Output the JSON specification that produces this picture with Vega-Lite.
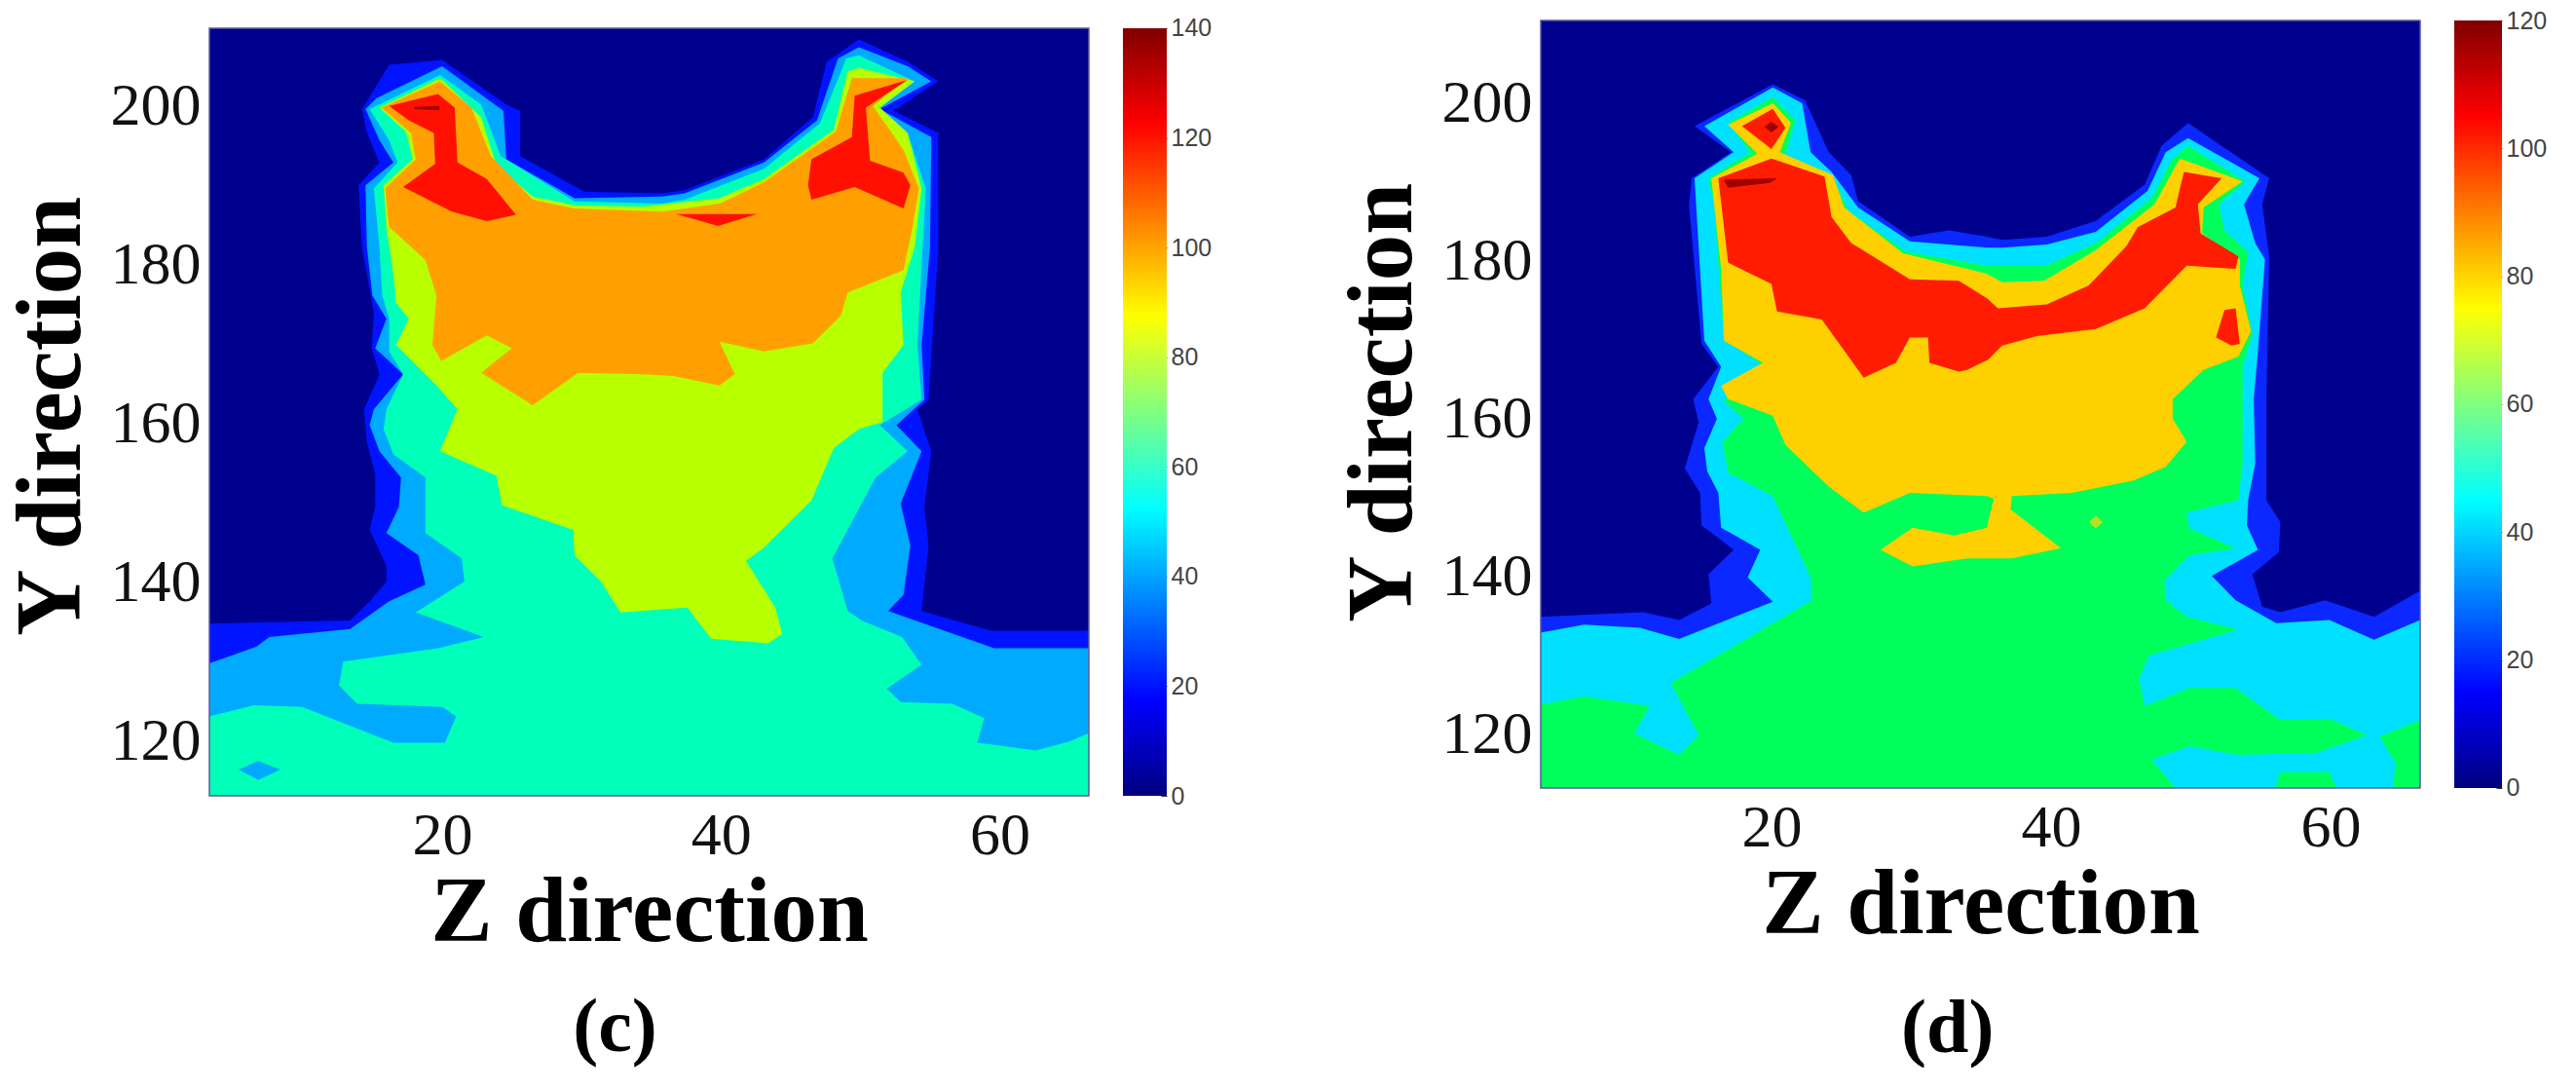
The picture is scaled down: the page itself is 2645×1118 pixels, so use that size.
{"$schema":"https://vega.github.io/schema/vega-lite/v6.json","padding":{"left":5,"top":9,"right":0,"bottom":0},"bounds":"flush","background":"white","spacing":0,
"config":{"view":{"stroke":null},"axis":{"grid":false,"domain":false,"zindex":1,"tickColor":"#333","labelColor":"#111"}},
"datasets":{
"labels":[{"t":"(c)","z":32.4,"y":83.75}],
"labeld":[{"t":"(d)","z":32.6,"y":82.5}],
"framec":[{"z0":3.3,"z1":66.4,"y0":113.1,"y1":209.8}],
"framed":[{"z0":3.5,"z1":66.4,"y0":113.1,"y1":210.4}],
"barc":[{"lo":0,"hi":140}],
"bard":[{"lo":0,"hi":120}],
"c":[
{"b":"c0","z":3.3,"y":113},{"b":"c0","z":66.4,"y":113},{"b":"c0","z":66.4,"y":209.8},{"b":"c0","z":3.3,"y":209.8},
{"b":"c1","z":3.3,"y":113},{"b":"c1","z":3.3,"y":134.8},{"b":"c1","z":13.4,"y":135.2},{"b":"c1","z":14.8,"y":137.6},{"b":"c1","z":16,"y":140.1},{"b":"c1","z":16,"y":142.1},{"b":"c1","z":14.8,"y":146.6},{"b":"c1","z":15.2,"y":149.5},{"b":"c1","z":15.2,"y":153.6},{"b":"c1","z":14.6,"y":157.7},{"b":"c1","z":14.4,"y":161.8},{"b":"c1","z":15.5,"y":166.2},{"b":"c1","z":14.95,"y":169.5},{"b":"c1","z":15.1,"y":174},{"b":"c1","z":14.25,"y":182.2},{"b":"c1","z":14,"y":190},{"b":"c1","z":15.5,"y":192.9},{"b":"c1","z":14.6,"y":196.6},{"b":"c1","z":14.25,"y":199.6},{"b":"c1","z":16.2,"y":205.2},{"b":"c1","z":20,"y":205.8},{"b":"c1","z":24.6,"y":200.2},{"b":"c1","z":25.6,"y":199.4},{"b":"c1","z":25.6,"y":193.7},{"b":"c1","z":30.2,"y":189.2},{"b":"c1","z":35.8,"y":189},{"b":"c1","z":37.4,"y":189.4},{"b":"c1","z":43.1,"y":193.3},{"b":"c1","z":46.6,"y":198.6},{"b":"c1","z":47.6,"y":205.6},{"b":"c1","z":49.9,"y":208.4},{"b":"c1","z":53.4,"y":205.6},{"b":"c1","z":55.6,"y":203.1},{"b":"c1","z":52.4,"y":199.4},{"b":"c1","z":55.6,"y":196.6},{"b":"c1","z":55.6,"y":182.2},{"b":"c1","z":54.9,"y":163},{"b":"c1","z":54.1,"y":161.8},{"b":"c1","z":55.1,"y":156.5},{"b":"c1","z":54.6,"y":149.5},{"b":"c1","z":54.9,"y":144.6},{"b":"c1","z":54.4,"y":136.4},{"b":"c1","z":59.4,"y":133.9},{"b":"c1","z":66.4,"y":133.9},{"b":"c1","z":66.4,"y":113},
{"b":"c2","z":3.3,"y":113},{"b":"c2","z":3.3,"y":129.8},{"b":"c2","z":6.7,"y":131.9},{"b":"c2","z":7.6,"y":133.1},{"b":"c2","z":13.4,"y":134.1},{"b":"c2","z":16.2,"y":137.6},{"b":"c2","z":18.8,"y":139.7},{"b":"c2","z":18.3,"y":143.4},{"b":"c2","z":16,"y":146.2},{"b":"c2","z":16.9,"y":149.5},{"b":"c2","z":17.05,"y":153.2},{"b":"c2","z":15.5,"y":156.5},{"b":"c2","z":14.8,"y":159.8},{"b":"c2","z":15.1,"y":161.8},{"b":"c2","z":17.2,"y":166.2},{"b":"c2","z":15.2,"y":169.5},{"b":"c2","z":16,"y":173.2},{"b":"c2","z":15,"y":176.1},{"b":"c2","z":14.6,"y":182.2},{"b":"c2","z":14.5,"y":190},{"b":"c2","z":16.5,"y":192.9},{"b":"c2","z":15.5,"y":195.7},{"b":"c2","z":14.5,"y":199.6},{"b":"c2","z":15.3,"y":201},{"b":"c2","z":20,"y":205},{"b":"c2","z":24.4,"y":199.4},{"b":"c2","z":24.6,"y":193.3},{"b":"c2","z":29.5,"y":188.4},{"b":"c2","z":35.8,"y":188.6},{"b":"c2","z":37.4,"y":189},{"b":"c2","z":43.1,"y":192.9},{"b":"c2","z":46.9,"y":198.2},{"b":"c2","z":48.4,"y":206},{"b":"c2","z":49.9,"y":207.4},{"b":"c2","z":53.4,"y":205},{"b":"c2","z":55.1,"y":203.1},{"b":"c2","z":51.4,"y":199.6},{"b":"c2","z":55.1,"y":196.1},{"b":"c2","z":55,"y":182.2},{"b":"c2","z":54.4,"y":169.9},{"b":"c2","z":54.6,"y":163},{"b":"c2","z":52.6,"y":159.8},{"b":"c2","z":54.4,"y":156.5},{"b":"c2","z":52.9,"y":149.9},{"b":"c2","z":53.6,"y":144.6},{"b":"c2","z":53.1,"y":138.4},{"b":"c2","z":52,"y":136.4},{"b":"c2","z":59.6,"y":131.7},{"b":"c2","z":66.4,"y":131.7},{"b":"c2","z":66.4,"y":113},
{"b":"c3","z":3.3,"y":113},{"b":"c3","z":3.3,"y":123.1},{"b":"c3","z":6.45,"y":124.5},{"b":"c3","z":9.95,"y":124.3},{"b":"c3","z":16.5,"y":119.8},{"b":"c3","z":20.2,"y":119.8},{"b":"c3","z":21,"y":123.1},{"b":"c3","z":20,"y":124.3},{"b":"c3","z":13.9,"y":124.7},{"b":"c3","z":12.6,"y":127},{"b":"c3","z":12.9,"y":130},{"b":"c3","z":19.7,"y":131.7},{"b":"c3","z":23,"y":133.1},{"b":"c3","z":18.1,"y":136.2},{"b":"c3","z":21.6,"y":140.1},{"b":"c3","z":21.4,"y":143},{"b":"c3","z":18.8,"y":146.2},{"b":"c3","z":18.8,"y":153.2},{"b":"c3","z":16.5,"y":156.1},{"b":"c3","z":15.8,"y":159.3},{"b":"c3","z":16,"y":161.8},{"b":"c3","z":17.2,"y":166.2},{"b":"c3","z":16.2,"y":169.1},{"b":"c3","z":16.2,"y":173.2},{"b":"c3","z":15.7,"y":176.1},{"b":"c3","z":15.5,"y":182.2},{"b":"c3","z":15.1,"y":189.6},{"b":"c3","z":16.8,"y":192.9},{"b":"c3","z":16.2,"y":195.7},{"b":"c3","z":14.8,"y":199.6},{"b":"c3","z":19.85,"y":203.9},{"b":"c3","z":22.8,"y":200.2},{"b":"c3","z":24.2,"y":193.7},{"b":"c3","z":29.5,"y":188},{"b":"c3","z":35.8,"y":187.7},{"b":"c3","z":37.4,"y":188.2},{"b":"c3","z":43.1,"y":192.1},{"b":"c3","z":47.1,"y":197.8},{"b":"c3","z":49,"y":206},{"b":"c3","z":49.9,"y":206.4},{"b":"c3","z":53.9,"y":203.1},{"b":"c3","z":51.4,"y":199.8},{"b":"c3","z":53.4,"y":196.6},{"b":"c3","z":54.7,"y":189.6},{"b":"c3","z":54.1,"y":169.9},{"b":"c3","z":54.4,"y":163},{"b":"c3","z":51.4,"y":159.8},{"b":"c3","z":53.4,"y":156.5},{"b":"c3","z":51.1,"y":153.2},{"b":"c3","z":48,"y":143},{"b":"c3","z":49.1,"y":136.4},{"b":"c3","z":50.1,"y":135.2},{"b":"c3","z":53,"y":133.1},{"b":"c3","z":54.4,"y":129.6},{"b":"c3","z":51.9,"y":126.6},{"b":"c3","z":52.9,"y":124.9},{"b":"c3","z":56.6,"y":124.7},{"b":"c3","z":58.9,"y":122.9},{"b":"c3","z":58.4,"y":119.8},{"b":"c3","z":62.6,"y":118.8},{"b":"c3","z":65.1,"y":120},{"b":"c3","z":66.4,"y":121},{"b":"c3","z":66.4,"y":113},
{"b":"c2b","z":5.4,"y":116.4},{"b":"c2b","z":6.8,"y":117.5},{"b":"c2b","z":8.4,"y":116.4},{"b":"c2b","z":6.8,"y":115.1},
{"b":"c4","z":21.1,"y":161.8},{"b":"c4","z":19.85,"y":156.5},{"b":"c4","z":23.9,"y":153.4},{"b":"c4","z":24.3,"y":149.7},{"b":"c4","z":29.4,"y":146.6},{"b":"c4","z":29.5,"y":143.4},{"b":"c4","z":31.4,"y":140.1},{"b":"c4","z":32.8,"y":136.2},{"b":"c4","z":35.8,"y":136.6},{"b":"c4","z":37.6,"y":136.8},{"b":"c4","z":39.3,"y":132.9},{"b":"c4","z":43.4,"y":132.3},{"b":"c4","z":44.4,"y":133.5},{"b":"c4","z":43.9,"y":136.8},{"b":"c4","z":41.8,"y":142.7},{"b":"c4","z":43.1,"y":144.4},{"b":"c4","z":46.5,"y":150.3},{"b":"c4","z":48.1,"y":156.9},{"b":"c4","z":49.9,"y":159.3},{"b":"c4","z":51.6,"y":160.2},{"b":"c4","z":51.6,"y":166.4},{"b":"c4","z":53.1,"y":169.9},{"b":"c4","z":52.9,"y":176.5},{"b":"c4","z":53.9,"y":182.2},{"b":"c4","z":54.4,"y":189.6},{"b":"c4","z":53.4,"y":196.6},{"b":"c4","z":51.4,"y":199.8},{"b":"c4","z":53.9,"y":203.1},{"b":"c4","z":49.9,"y":204.8},{"b":"c4","z":49.1,"y":204.3},{"b":"c4","z":48.1,"y":197},{"b":"c4","z":43.1,"y":190.8},{"b":"c4","z":39.9,"y":188.4},{"b":"c4","z":34.4,"y":187.3},{"b":"c4","z":29.5,"y":187.5},{"b":"c4","z":26.5,"y":188.6},{"b":"c4","z":23.9,"y":192.5},{"b":"c4","z":22.8,"y":198.6},{"b":"c4","z":19.85,"y":203.5},{"b":"c4","z":15.5,"y":199.8},{"b":"c4","z":17.4,"y":196.8},{"b":"c4","z":17.9,"y":193.3},{"b":"c4","z":15.8,"y":190},{"b":"c4","z":16,"y":184.7},{"b":"c4","z":16.5,"y":178.9},{"b":"c4","z":16.7,"y":175.2},{"b":"c4","z":17.6,"y":173.2},{"b":"c4","z":16.7,"y":169.9},{"b":"c4","z":19.7,"y":164.6},
{"b":"c5","z":16.2,"y":184.7},{"b":"c5","z":15.9,"y":189.6},{"b":"c5","z":18.1,"y":193.3},{"b":"c5","z":17.75,"y":196.6},{"b":"c5","z":15.65,"y":199.8},{"b":"c5","z":19.85,"y":203.1},{"b":"c5","z":22.1,"y":199.8},{"b":"c5","z":23.5,"y":193.7},{"b":"c5","z":26.5,"y":188.2},{"b":"c5","z":29.5,"y":187.1},{"b":"c5","z":35.8,"y":186.7},{"b":"c5","z":39.9,"y":187.7},{"b":"c5","z":43.1,"y":190.4},{"b":"c5","z":48.25,"y":196.8},{"b":"c5","z":49.4,"y":203.5},{"b":"c5","z":53.4,"y":203.5},{"b":"c5","z":50.9,"y":200},{"b":"c5","z":53.1,"y":194.5},{"b":"c5","z":54.2,"y":189.6},{"b":"c5","z":53.7,"y":184.3},{"b":"c5","z":53.1,"y":179.3},{"b":"c5","z":49.1,"y":176.5},{"b":"c5","z":48.6,"y":173.6},{"b":"c5","z":46.6,"y":170.1},{"b":"c5","z":43.1,"y":169.1},{"b":"c5","z":39.9,"y":170.3},{"b":"c5","z":41,"y":166.2},{"b":"c5","z":39.9,"y":164.8},{"b":"c5","z":36.6,"y":166},{"b":"c5","z":34.4,"y":166.2},{"b":"c5","z":29.75,"y":166.4},{"b":"c5","z":26.5,"y":162.3},{"b":"c5","z":22.8,"y":166.4},{"b":"c5","z":25,"y":169.5},{"b":"c5","z":23.2,"y":171.1},{"b":"c5","z":19.95,"y":167.9},{"b":"c5","z":19.3,"y":169.9},{"b":"c5","z":19.6,"y":176.1},{"b":"c5","z":18.8,"y":180.6},{"b":"c5","z":16.5,"y":184.3},
{"b":"c6","z":16.2,"y":200},{"b":"c6","z":19.7,"y":201.5},{"b":"c6","z":20.9,"y":199.8},{"b":"c6","z":21.1,"y":192.9},{"b":"c6","z":23.2,"y":190.8},{"b":"c6","z":25.3,"y":186.3},{"b":"c6","z":23.2,"y":185.5},{"b":"c6","z":20.7,"y":186.7},{"b":"c6","z":17.2,"y":189.8},{"b":"c6","z":19.5,"y":192.7},{"b":"c6","z":19.4,"y":196.6},{"b":"c6","z":17.6,"y":198.2},
{"b":"c6b","z":49.6,"y":201.3},{"b":"c6b","z":53.4,"y":203.3},{"b":"c6b","z":50.4,"y":199.8},{"b":"c6b","z":50.7,"y":193.1},{"b":"c6b","z":53.1,"y":191.6},{"b":"c6b","z":53.6,"y":190},{"b":"c6b","z":53.1,"y":187.1},{"b":"c6b","z":49.6,"y":189.8},{"b":"c6b","z":46.5,"y":188.2},{"b":"c6b","z":46.25,"y":190},{"b":"c6b","z":46.5,"y":193.3},{"b":"c6b","z":49.4,"y":196.1},
{"b":"c6c","z":36.8,"y":186.4},{"b":"c6c","z":42.6,"y":186.4},{"b":"c6c","z":39.8,"y":184.9},
{"b":"c7","z":18,"y":199.9},{"b":"c7","z":19.8,"y":200},{"b":"c7","z":19.8,"y":199.5},{"b":"c7","z":18,"y":199.6}
],
"d":[
{"b":"d0","z":3.5,"y":113.1},{"b":"d0","z":66.4,"y":113.1},{"b":"d0","z":66.4,"y":210.4},{"b":"d0","z":3.5,"y":210.4},
{"b":"d1","z":3.5,"y":113.1},{"b":"d1","z":3.5,"y":134.8},{"b":"d1","z":10.8,"y":135.4},{"b":"d1","z":13.4,"y":134.4},{"b":"d1","z":15.7,"y":136.5},{"b":"d1","z":15.5,"y":140.2},{"b":"d1","z":17.3,"y":143.3},{"b":"d1","z":15,"y":146.4},{"b":"d1","z":14.9,"y":150.5},{"b":"d1","z":13.8,"y":153.6},{"b":"d1","z":14.8,"y":159.5},{"b":"d1","z":14.4,"y":162.4},{"b":"d1","z":16.2,"y":166.5},{"b":"d1","z":15,"y":169.4},{"b":"d1","z":14.1,"y":187.1},{"b":"d1","z":14.3,"y":190.4},{"b":"d1","z":17.1,"y":193.7},{"b":"d1","z":14.5,"y":197},{"b":"d1","z":20.1,"y":202.3},{"b":"d1","z":22.4,"y":200.3},{"b":"d1","z":24.1,"y":193.7},{"b":"d1","z":25.7,"y":190.8},{"b":"d1","z":26.2,"y":187.5},{"b":"d1","z":29.9,"y":183},{"b":"d1","z":32.7,"y":183.8},{"b":"d1","z":35.4,"y":183},{"b":"d1","z":36.5,"y":182.6},{"b":"d1","z":39.7,"y":183},{"b":"d1","z":43.2,"y":185},{"b":"d1","z":46.7,"y":189.6},{"b":"d1","z":47.9,"y":194.5},{"b":"d1","z":49.8,"y":197.4},{"b":"d1","z":55.6,"y":190.4},{"b":"d1","z":55.1,"y":187.1},{"b":"d1","z":55.6,"y":180.5},{"b":"d1","z":55.4,"y":162.4},{"b":"d1","z":55.4,"y":149.6},{"b":"d1","z":56.4,"y":146.8},{"b":"d1","z":56.3,"y":143},{"b":"d1","z":54.4,"y":140.2},{"b":"d1","z":55.1,"y":136.1},{"b":"d1","z":56.4,"y":135.4},{"b":"d1","z":59.6,"y":136.9},{"b":"d1","z":63.1,"y":134.8},{"b":"d1","z":66.4,"y":138.1},{"b":"d1","z":66.4,"y":113.1},
{"b":"d2","z":3.5,"y":113.1},{"b":"d2","z":3.5,"y":132.8},{"b":"d2","z":6.6,"y":133.8},{"b":"d2","z":10.6,"y":133.4},{"b":"d2","z":13.4,"y":132},{"b":"d2","z":20.1,"y":136.7},{"b":"d2","z":18.3,"y":139.8},{"b":"d2","z":19.2,"y":143.3},{"b":"d2","z":16.4,"y":146.1},{"b":"d2","z":16.2,"y":150.5},{"b":"d2","z":15.4,"y":153.3},{"b":"d2","z":15.2,"y":156.2},{"b":"d2","z":16.1,"y":159.9},{"b":"d2","z":15.5,"y":162.4},{"b":"d2","z":16.4,"y":166.5},{"b":"d2","z":15.2,"y":169.8},{"b":"d2","z":14.5,"y":190.4},{"b":"d2","z":17.3,"y":193.7},{"b":"d2","z":15.2,"y":197},{"b":"d2","z":20.1,"y":201.9},{"b":"d2","z":22.2,"y":199.9},{"b":"d2","z":22.8,"y":193.7},{"b":"d2","z":24.3,"y":191.2},{"b":"d2","z":26.2,"y":186.7},{"b":"d2","z":29.9,"y":182.4},{"b":"d2","z":35.4,"y":181.6},{"b":"d2","z":36.5,"y":181.6},{"b":"d2","z":39.7,"y":182},{"b":"d2","z":43.2,"y":183.6},{"b":"d2","z":46.9,"y":188.8},{"b":"d2","z":48.2,"y":193.7},{"b":"d2","z":49.8,"y":195.5},{"b":"d2","z":54.9,"y":190.4},{"b":"d2","z":53.8,"y":187.1},{"b":"d2","z":54.6,"y":182.2},{"b":"d2","z":55.3,"y":180.1},{"b":"d2","z":54.8,"y":168.6},{"b":"d2","z":54.5,"y":162.4},{"b":"d2","z":54.6,"y":154.2},{"b":"d2","z":54.1,"y":149.6},{"b":"d2","z":54,"y":146.4},{"b":"d2","z":54.8,"y":143.3},{"b":"d2","z":51.5,"y":140},{"b":"d2","z":53.2,"y":136.9},{"b":"d2","z":56.1,"y":134},{"b":"d2","z":59.9,"y":134.4},{"b":"d2","z":63.1,"y":131.9},{"b":"d2","z":66.4,"y":134.4},{"b":"d2","z":66.4,"y":113.1},
{"b":"d3","z":3.5,"y":113.1},{"b":"d3","z":3.5,"y":123.7},{"b":"d3","z":6.6,"y":124.7},{"b":"d3","z":11.3,"y":123.5},{"b":"d3","z":10.2,"y":120},{"b":"d3","z":13.4,"y":117.3},{"b":"d3","z":14.8,"y":119.8},{"b":"d3","z":12.8,"y":126.4},{"b":"d3","z":22.9,"y":136.9},{"b":"d3","z":22.8,"y":139.8},{"b":"d3","z":20.1,"y":150.1},{"b":"d3","z":16.9,"y":153.1},{"b":"d3","z":16.5,"y":157},{"b":"d3","z":18,"y":159.9},{"b":"d3","z":16.6,"y":162.2},{"b":"d3","z":19.2,"y":167},{"b":"d3","z":16.6,"y":169.8},{"b":"d3","z":15.9,"y":187.1},{"b":"d3","z":15.5,"y":190.4},{"b":"d3","z":18.5,"y":193.7},{"b":"d3","z":16.9,"y":197.4},{"b":"d3","z":20.1,"y":200.7},{"b":"d3","z":21.7,"y":197.8},{"b":"d3","z":21,"y":193.3},{"b":"d3","z":24.3,"y":190.8},{"b":"d3","z":25.5,"y":186.3},{"b":"d3","z":29.6,"y":181.1},{"b":"d3","z":35.4,"y":179.3},{"b":"d3","z":39.7,"y":179.3},{"b":"d3","z":43.2,"y":182.2},{"b":"d3","z":47.2,"y":187.9},{"b":"d3","z":48.7,"y":192.9},{"b":"d3","z":49.8,"y":194.5},{"b":"d3","z":53.9,"y":190},{"b":"d3","z":52,"y":187.1},{"b":"d3","z":52.4,"y":183.8},{"b":"d3","z":54.1,"y":181},{"b":"d3","z":53.7,"y":176.8},{"b":"d3","z":54.4,"y":170.6},{"b":"d3","z":53.7,"y":166.5},{"b":"d3","z":53.7,"y":162.4},{"b":"d3","z":53.7,"y":154.2},{"b":"d3","z":53.4,"y":149.6},{"b":"d3","z":49.7,"y":148},{"b":"d3","z":49.9,"y":146},{"b":"d3","z":53.2,"y":143.5},{"b":"d3","z":49.9,"y":142.6},{"b":"d3","z":48.1,"y":139.4},{"b":"d3","z":48.2,"y":136.9},{"b":"d3","z":49.7,"y":134.8},{"b":"d3","z":53.4,"y":133.2},{"b":"d3","z":47,"y":129.9},{"b":"d3","z":46.3,"y":127},{"b":"d3","z":46.7,"y":123.5},{"b":"d3","z":49.9,"y":125.8},{"b":"d3","z":53.2,"y":125.8},{"b":"d3","z":56.4,"y":121.7},{"b":"d3","z":59.9,"y":121.9},{"b":"d3","z":62.6,"y":119.8},{"b":"d3","z":58.9,"y":117.5},{"b":"d3","z":53.4,"y":117.3},{"b":"d3","z":49.9,"y":118.4},{"b":"d3","z":47.2,"y":116.7},{"b":"d3","z":48.9,"y":113.1},{"b":"d3","z":56,"y":113.1},{"b":"d3","z":56.4,"y":115.1},{"b":"d3","z":59.9,"y":115.1},{"b":"d3","z":60.4,"y":113.1},{"b":"d3","z":64.5,"y":113.1},{"b":"d3","z":64.6,"y":116.3},{"b":"d3","z":63.5,"y":119.6},{"b":"d3","z":66.4,"y":121.7},{"b":"d3","z":66.4,"y":113.1},
{"b":"d4","z":15.7,"y":190.4},{"b":"d4","z":19,"y":193.5},{"b":"d4","z":16.9,"y":197.2},{"b":"d4","z":20.1,"y":199.9},{"b":"d4","z":21.4,"y":197.4},{"b":"d4","z":20.6,"y":193.7},{"b":"d4","z":24.4,"y":190.8},{"b":"d4","z":25.2,"y":186.7},{"b":"d4","z":29.4,"y":180.9},{"b":"d4","z":35.4,"y":178.3},{"b":"d4","z":36.5,"y":177.2},{"b":"d4","z":39.5,"y":177.4},{"b":"d4","z":43.2,"y":181.3},{"b":"d4","z":47.4,"y":187.1},{"b":"d4","z":49.2,"y":192.9},{"b":"d4","z":53.7,"y":190},{"b":"d4","z":50.9,"y":186.7},{"b":"d4","z":50.8,"y":183.4},{"b":"d4","z":53.5,"y":180.1},{"b":"d4","z":53.5,"y":176.8},{"b":"d4","z":54.3,"y":171},{"b":"d4","z":53.4,"y":167.8},{"b":"d4","z":50.9,"y":166.1},{"b":"d4","z":48.7,"y":162.4},{"b":"d4","z":48.7,"y":159.9},{"b":"d4","z":49.7,"y":157},{"b":"d4","z":48.2,"y":153.8},{"b":"d4","z":45.9,"y":152.1},{"b":"d4","z":41.5,"y":150.5},{"b":"d4","z":37.2,"y":150.1},{"b":"d4","z":37.1,"y":148.4},{"b":"d4","z":40.7,"y":143.5},{"b":"d4","z":37.2,"y":142.2},{"b":"d4","z":34,"y":142.2},{"b":"d4","z":30.1,"y":141.2},{"b":"d4","z":27.8,"y":143.3},{"b":"d4","z":30.1,"y":146.1},{"b":"d4","z":33.1,"y":145.1},{"b":"d4","z":35.4,"y":146.1},{"b":"d4","z":35.5,"y":146.8},{"b":"d4","z":35.9,"y":149.8},{"b":"d4","z":35.4,"y":150.1},{"b":"d4","z":29.9,"y":150.5},{"b":"d4","z":26.6,"y":148},{"b":"d4","z":24.1,"y":151.3},{"b":"d4","z":21,"y":156.6},{"b":"d4","z":20.1,"y":160.3},{"b":"d4","z":16.9,"y":162.4},{"b":"d4","z":16.4,"y":164.1},{"b":"d4","z":19.4,"y":167},{"b":"d4","z":16.6,"y":169.8},{"b":"d4","z":16.4,"y":178.9},
{"b":"d4b","z":42.7,"y":146.8},{"b":"d4b","z":43.2,"y":147.6},{"b":"d4b","z":43.7,"y":146.8},{"b":"d4b","z":43.2,"y":146},
{"b":"d5","z":16.2,"y":190.4},{"b":"d5","z":20,"y":192.9},{"b":"d5","z":23.8,"y":190.6},{"b":"d5","z":24.3,"y":185.5},{"b":"d5","z":25.7,"y":182.2},{"b":"d5","z":29.9,"y":177.6},{"b":"d5","z":33.4,"y":177.4},{"b":"d5","z":35.4,"y":175.2},{"b":"d5","z":36.2,"y":173.9},{"b":"d5","z":39.7,"y":174.4},{"b":"d5","z":42.7,"y":176.8},{"b":"d5","z":45.4,"y":181.8},{"b":"d5","z":46.2,"y":184.2},{"b":"d5","z":48.9,"y":186.7},{"b":"d5","z":49.5,"y":191.2},{"b":"d5","z":52.2,"y":190.4},{"b":"d5","z":50.5,"y":187.1},{"b":"d5","z":50.7,"y":183.4},{"b":"d5","z":53.4,"y":180.5},{"b":"d5","z":53.2,"y":178.9},{"b":"d5","z":49.7,"y":179.3},{"b":"d5","z":46.7,"y":173.9},{"b":"d5","z":43.2,"y":171.3},{"b":"d5","z":39,"y":170.4},{"b":"d5","z":36.5,"y":169.2},{"b":"d5","z":35.5,"y":167.4},{"b":"d5","z":34,"y":166.1},{"b":"d5","z":33.4,"y":165.9},{"b":"d5","z":31.3,"y":167},{"b":"d5","z":31.2,"y":170.2},{"b":"d5","z":29.9,"y":170.2},{"b":"d5","z":28.9,"y":167},{"b":"d5","z":26.6,"y":165.1},{"b":"d5","z":23.6,"y":172.5},{"b":"d5","z":20.4,"y":173.5},{"b":"d5","z":20,"y":177},{"b":"d5","z":16.9,"y":179.7},
{"b":"d5b","z":52.4,"y":173.7},{"b":"d5b","z":53.2,"y":173.9},{"b":"d5b","z":53.5,"y":169.4},{"b":"d5b","z":52.9,"y":169.2},{"b":"d5b","z":51.8,"y":170.2},
{"b":"d5c","z":17.9,"y":197},{"b":"d5c","z":20.1,"y":199.2},{"b":"d5c","z":21,"y":196.8},{"b":"d5c","z":20,"y":194.1},
{"b":"d6","z":16.6,"y":190.2},{"b":"d6","z":20.4,"y":190.4},{"b":"d6","z":19.9,"y":189.8},{"b":"d6","z":16.9,"y":189.2},
{"b":"d6b","z":20,"y":197.6},{"b":"d6b","z":20.5,"y":196.9},{"b":"d6b","z":20,"y":196.2},{"b":"d6b","z":19.5,"y":196.9}
]},
"hconcat":[
{"width":903,"height":796,"layer":[
{"data":{"name":"c"},"mark":{"type":"line","clip":true,"strokeWidth":0},"encoding":{
"x":{"field":"z","type":"quantitative","scale":{"domain":[3.3,66.4],"nice":false,"zero":false},"axis":{"values":[20,40,60],"title":"Z direction","titleY":148,"titleFont":"Liberation Serif","titleFontSize":95,"titleFontWeight":"bold","titleBaseline":"alphabetic","labelFont":"Liberation Serif","labelFontSize":62,"labelPadding":18,"tickSize":-8}},
"y":{"field":"y","type":"quantitative","scale":{"domain":[113.1,210.78],"nice":false,"zero":false},"axis":{"values":[120,140,160,180,200],"title":"Y direction","titleX":-114,"titleY":406,"titleFont":"Liberation Serif","titleFontSize":95,"titleFontWeight":"bold","labelFont":"Liberation Serif","labelFontSize":62,"tickSize":-8,"labelPadding":17}},
"order":{"value":null},
"fill":{"field":"b","type":"nominal","legend":null,"scale":{"domain":["c0","c1","c2","c3","c2b","c4","c5","c6","c6b","c6c","c7","d0","d1","d2","d3","d4","d4b","d5","d5b","d5c","d6","d6b"],"range":["#00008f","#0014ff","#00aaff","#00ffb9","#00aaff","#b8ff00","#ffa000","#ff1000","#ff1000","#ff1000","#a00000","#00008f","#0a28ff","#00e1ff","#00ff5a","#ffd000","#b8e020","#ff1c00","#ff1c00","#ff1c00","#a00000","#a00000"]}}}},
{"data":{"name":"framec"},"mark":{"type":"rect","fillOpacity":0,"stroke":"#5a5aa0","strokeWidth":1.5},"encoding":{"x":{"field":"z0","type":"quantitative","scale":{"domain":[3.3,66.4],"nice":false,"zero":false}},"x2":{"field":"z1"},"y":{"field":"y0","type":"quantitative","scale":{"domain":[113.1,210.78],"nice":false,"zero":false}},"y2":{"field":"y1"}}},
{"data":{"name":"labels"},"mark":{"type":"text","clip":false,"font":"Liberation Serif","fontSize":78,"fontWeight":"bold","baseline":"middle","color":"#000"},"encoding":{"x":{"field":"z","type":"quantitative","scale":{"domain":[3.3,66.4],"nice":false,"zero":false}},"y":{"field":"y","type":"quantitative","scale":{"domain":[113.1,210.78],"nice":false,"zero":false}},"text":{"field":"t"}}}
]},
{"width":35,"height":796,"data":{"name":"barc"},"mark":{"type":"rule","opacity":0},"encoding":{}},
{"width":45,"height":796,"data":{"name":"barc"},"mark":{"type":"rect","color":{"gradient":"linear","x1":0,"y1":1,"x2":0,"y2":0,"stops":[{"offset":0,"color":"#000080"},{"offset":0.125,"color":"#0000ff"},{"offset":0.375,"color":"#00ffff"},{"offset":0.625,"color":"#ffff00"},{"offset":0.875,"color":"#ff0000"},{"offset":1,"color":"#800000"}]}},"encoding":{"y":{"field":"lo","type":"quantitative","scale":{"domain":[0,141.42],"nice":false,"zero":false},"axis":{"orient":"right","values":[0,20,40,60,80,100,120,140],"title":null,"tickSize":-6,"labelFontSize":25,"labelFont":"Liberation Sans","labelColor":"#444","labelPadding":10}},"y2":{"field":"hi"}}},
{"width":384,"height":796,"data":{"name":"barc"},"mark":{"type":"rule","opacity":0},"encoding":{}},
{"width":903,"height":796,"layer":[
{"data":{"name":"d"},"mark":{"type":"line","clip":true,"strokeWidth":0},"encoding":{
"x":{"field":"z","type":"quantitative","scale":{"domain":[3.5,66.4],"nice":false,"zero":false},"axis":{"values":[20,40,60],"offset":-8,"title":"Z direction","titleY":148,"titleFont":"Liberation Serif","titleFontSize":95,"titleFontWeight":"bold","titleBaseline":"alphabetic","labelFont":"Liberation Serif","labelFontSize":62,"labelPadding":18,"tickSize":-8}},
"y":{"field":"y","type":"quantitative","scale":{"domain":[112.11,210.4],"nice":false,"zero":false},"axis":{"values":[120,140,160,180,200],"title":"Y direction","titleX":-114,"titleY":392,"titleFont":"Liberation Serif","titleFontSize":95,"titleFontWeight":"bold","labelFont":"Liberation Serif","labelFontSize":62,"tickSize":-8,"labelPadding":17}},
"order":{"value":null},
"fill":{"field":"b","type":"nominal","legend":null}}},
{"data":{"name":"framed"},"mark":{"type":"rect","fillOpacity":0,"stroke":"#5a5aa0","strokeWidth":1.5},"encoding":{"x":{"field":"z0","type":"quantitative","scale":{"domain":[3.5,66.4],"nice":false,"zero":false}},"x2":{"field":"z1"},"y":{"field":"y0","type":"quantitative","scale":{"domain":[112.11,210.4],"nice":false,"zero":false}},"y2":{"field":"y1"}}},
{"data":{"name":"labeld"},"mark":{"type":"text","clip":false,"font":"Liberation Serif","fontSize":78,"fontWeight":"bold","baseline":"middle","color":"#000"},"encoding":{"x":{"field":"z","type":"quantitative","scale":{"domain":[3.5,66.4],"nice":false,"zero":false}},"y":{"field":"y","type":"quantitative","scale":{"domain":[112.11,210.4],"nice":false,"zero":false}},"text":{"field":"t"}}}
]},
{"width":35,"height":796,"data":{"name":"barc"},"mark":{"type":"rule","opacity":0},"encoding":{}},
{"width":49,"height":796,"data":{"name":"bard"},"mark":{"type":"rect","color":{"gradient":"linear","x1":0,"y1":1,"x2":0,"y2":0,"stops":[{"offset":0,"color":"#000080"},{"offset":0.125,"color":"#0000ff"},{"offset":0.375,"color":"#00ffff"},{"offset":0.625,"color":"#ffff00"},{"offset":0.875,"color":"#ff0000"},{"offset":1,"color":"#800000"}]}},"encoding":{"y":{"field":"lo","type":"quantitative","scale":{"domain":[-1.22,120],"nice":false,"zero":false},"axis":{"orient":"right","values":[0,20,40,60,80,100,120],"title":null,"tickSize":-6,"labelFontSize":25,"labelFont":"Liberation Sans","labelColor":"#444","labelPadding":10}},"y2":{"field":"hi"}}}
]}
